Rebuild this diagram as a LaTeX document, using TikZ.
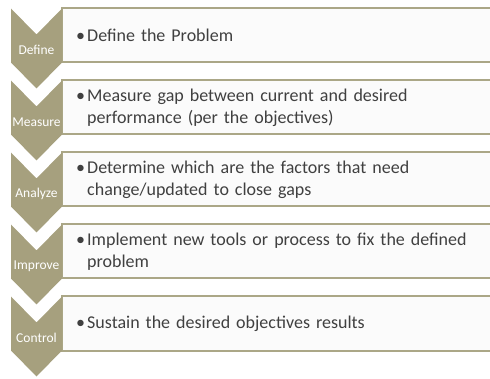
\documentclass[tikz,border=0pt]{standalone}
\usepackage{fontspec}
\setmainfont{Carlito}

\begin{document}
\begin{tikzpicture}[x=1pt, y=-1pt]
  \definecolor{khaki}{HTML}{A6A07E}
  \definecolor{rule}{HTML}{ABA787}
  \definecolor{paper}{HTML}{FBFBFB}
  \definecolor{ink}{HTML}{404040}
  \tikzstyle{chevron}=[fill=khaki, draw=none]
  \tikzstyle{stepbox}=[fill=paper, draw=rule, line width=2pt]
  \tikzstyle{label}=[text=white, font=\fontsize{13.5}{15}\selectfont, inner sep=0pt]
  \tikzstyle{item}=[anchor=west, text=ink, text width=405pt, align=left, inner sep=0pt,
                    font=\fontsize{18}{22}\selectfont]

  \useasboundingbox (0,0) rectangle (490,379);
  \clip (0,0) rectangle (490,379);

  % boxes and chevrons, one row every 72pt
  \foreach \y in {8.5, 80.5, 152.5, 224.5, 296.5} {
    \path[stepbox] (62,\y) rectangle (500,\y+54);
    \path[chevron] (11,\y) -- (36.5,\y+26) -- (62,\y) -- (62,\y+54)
                   -- (36.5,\y+80) -- (11,\y+54) -- cycle;
  }

  % phase names
  \node[label] (define)  at (36.5,50)  {Define};
  \node[label] (measure) at (36.5,122) {Measure};
  \node[label] (analyze) at (36.5,194) {Analyze};
  \node[label] (improve) at (36.5,266) {Improve};
  \node[label] (control) at (36.5,338) {Control};

  % what each phase does
  \node[item] (definetxt) at (74,35.5)
    {\makebox[13pt][l]{\hspace{2pt}\textbullet}Define the Problem};
  \node[item] (measuretxt) at (74,107.5)
    {\makebox[13pt][l]{\hspace{2pt}\textbullet}Measure gap between current and desired\\
     \hspace*{13pt}performance (per the objectives)};
  \node[item] (analyzetxt) at (74,179.5)
    {\makebox[13pt][l]{\hspace{2pt}\textbullet}Determine which are the factors that need\\
     \hspace*{13pt}change/updated to close gaps};
  \node[item] (improvetxt) at (74,251.5)
    {\makebox[13pt][l]{\hspace{2pt}\textbullet}Implement new tools or process to fix the defined\\
     \hspace*{13pt}problem};
  \node[item] (controltxt) at (74,323.5)
    {\makebox[13pt][l]{\hspace{2pt}\textbullet}Sustain the desired objectives results};
\end{tikzpicture}
\end{document}
